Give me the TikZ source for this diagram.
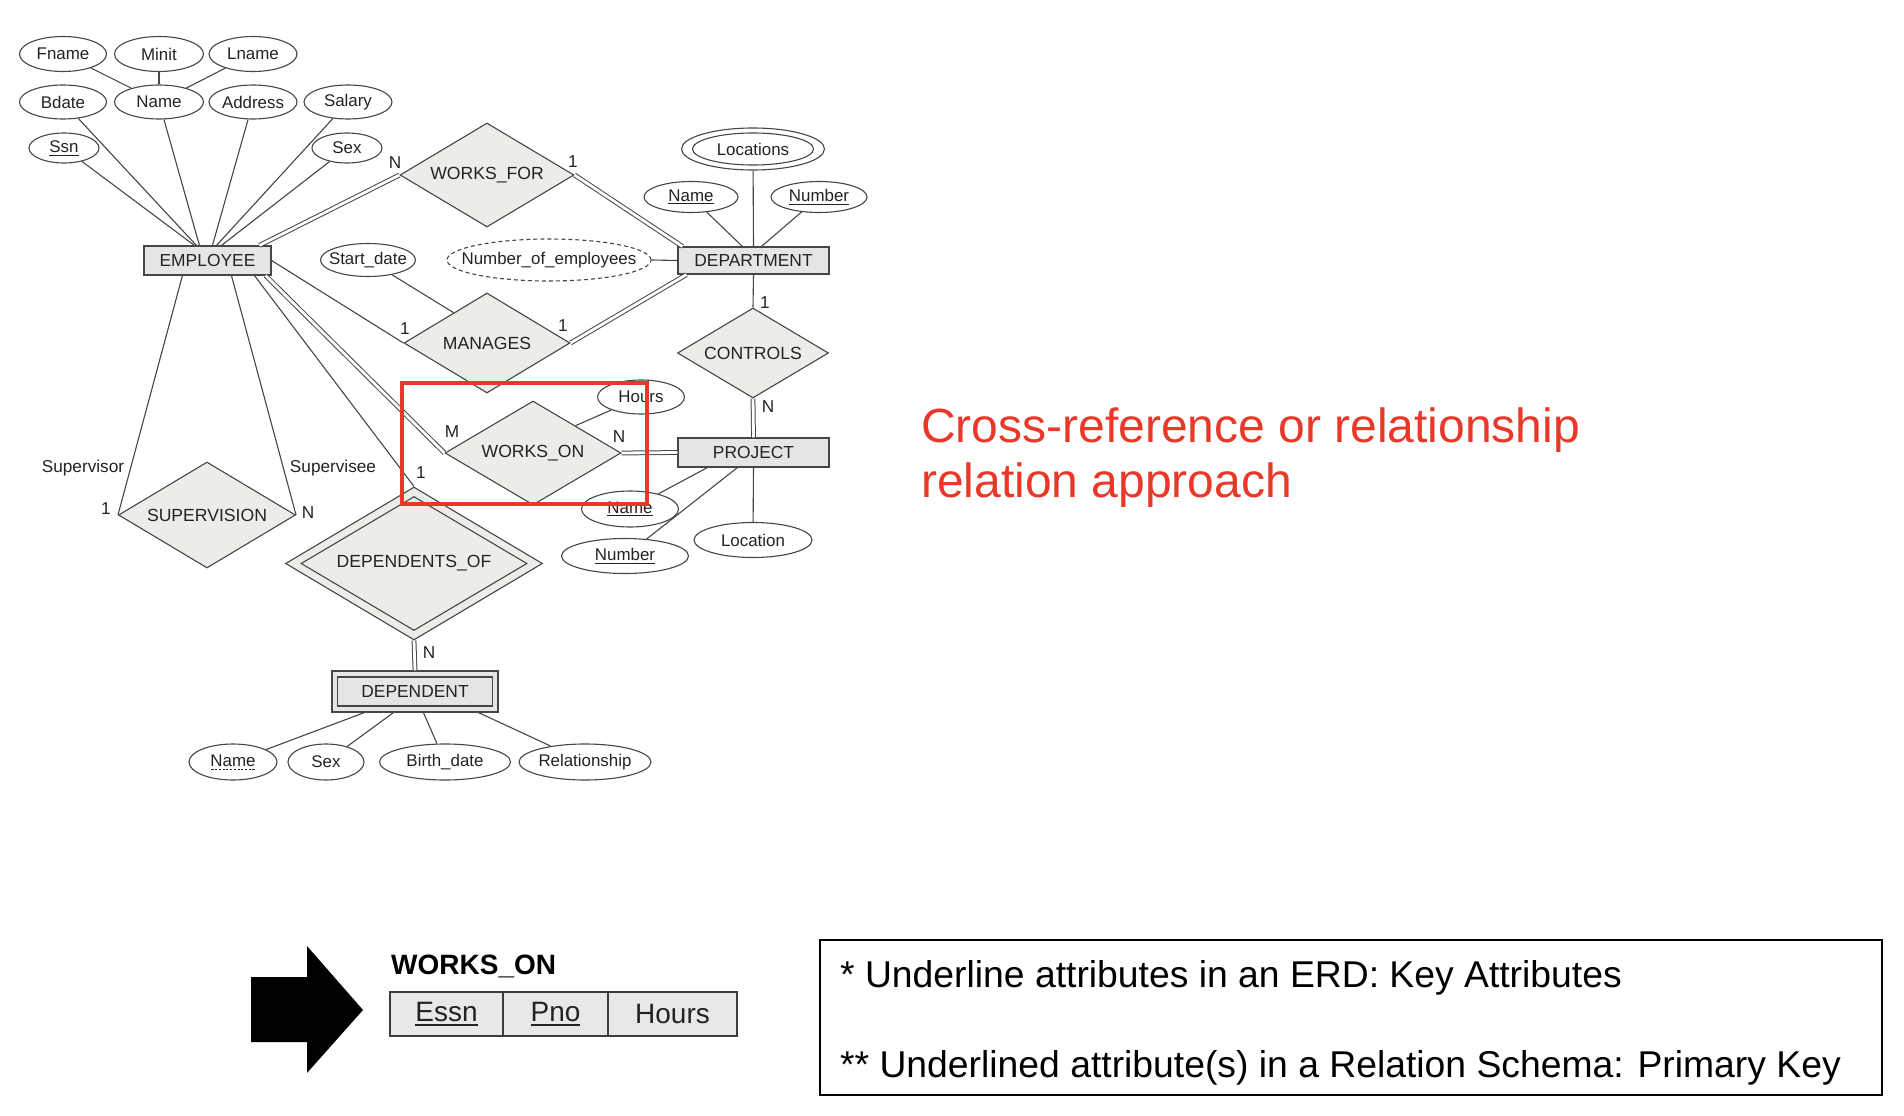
\documentclass[tikz,border=0pt]{standalone}
\usepackage{fontspec}
\setmainfont{Liberation Sans}
\usetikzlibrary{shapes.geometric,calc}
\definecolor{lc}{RGB}{70,70,70}
\definecolor{dfill}{RGB}{238,236,233}
\definecolor{efill}{RGB}{229,229,227}
\definecolor{txt}{RGB}{35,35,35}
\definecolor{redc}{RGB}{233,56,40}
\definecolor{cellfill}{RGB}{232,232,232}
\newcommand{\keyul}[3]{\setbox0=\hbox{#3}\rlap{\rule[-#1]{\wd0}{#2}}\box0}
\newcommand{\dashul}[1]{\setbox0=\hbox{#1}\rlap{\raisebox{-3.5pt}{\hbox to\wd0{\xleaders\hbox to 3.6pt{\hss\rule{2.2pt}{0.9pt}\hss}\hfill}}}\box0}
\begin{document}
\begin{tikzpicture}[x=1pt,y=-1pt,
  every node/.style={text=txt},
  ln/.style={draw=lc,line width=1.1pt},
  dbl/.style={draw=lc,line width=1pt,double=white,double distance=2.8pt},
  attr/.style={ellipse,draw=lc,line width=1.1pt,fill=white,inner xsep=-20pt,inner ysep=0pt,font=\fontsize{16.9}{18}\selectfont},
  ent/.style={rectangle,draw=lc,line width=1.1pt,fill=efill,inner sep=0pt,font=\fontsize{17.4}{19}\selectfont},
  rel/.style={diamond,aspect=2,draw=lc,line width=1.1pt,fill=dfill,inner sep=0pt,font=\fontsize{17.6}{19}\selectfont},
  card/.style={inner sep=0pt,font=\fontsize{17.2}{19}\selectfont},
  cell/.style={rectangle,draw={rgb,255:red,60;green,60;blue,60},line width=1.6pt,fill=cellfill,inner sep=0pt,minimum height=44,font=\fontsize{28}{30}\selectfont},
]
\fill[white] (0,0) rectangle (1904,1116);
\useasboundingbox (0,0) rectangle (1904,1116);

% ---------- EMPLOYEE side ----------
\node[attr,minimum width=87,minimum height=35] (fname) at (63,54) {Fname};
\node[attr,minimum width=89,minimum height=35] (minit) at (159,54) {Minit};
\node[attr,minimum width=88,minimum height=35] (lname) at (253,54) {Lname};
\node[attr,minimum width=87,minimum height=34] (bdate) at (63,102) {Bdate};
\node[attr,minimum width=89,minimum height=34] (ename) at (159,102) {Name};
\node[attr,minimum width=88,minimum height=34] (addr) at (253,102) {Address};
\node[attr,minimum width=88,minimum height=34] (salary) at (348,102) {Salary};
\node[attr,minimum width=70,minimum height=30] (ssn) at (64,148) {\keyul{3pt}{0.9pt}{Ssn}};
\node[attr,minimum width=70,minimum height=30] (esex) at (347,148) {Sex};
\node[ent,minimum width=127,minimum height=29] (emp) at (207.5,260.5) {EMPLOYEE};
\node[attr,minimum width=95,minimum height=33] (startd) at (368,260) {Start\_date};

% ---------- relationships ----------
\node[rel,minimum width=174,minimum height=104] (wf) at (487,175) {WORKS\_FOR};
\node[rel,minimum width=166,minimum height=100] (mgr) at (487,343) {MANAGES};
\node[rel,minimum width=151,minimum height=90] (ctrl) at (753,353) {CONTROLS};
\node[rel,minimum width=176,minimum height=104] (won) at (533,453) {WORKS\_ON};
\node[rel,minimum width=177,minimum height=106] (sup) at (207,515) {SUPERVISION};
\node[rel,minimum width=257,minimum height=153] (depof) at (414,563.5) {};
\node[rel,minimum width=226,minimum height=134] (depofin) at (414,563.5) {DEPENDENTS\_OF};

% ---------- DEPARTMENT ----------
\node[ent,minimum width=151,minimum height=27] (dept) at (753.5,260.5) {DEPARTMENT};
\node[attr,minimum width=143,minimum height=42] (locs) at (753,149) {};
\node[attr,minimum width=121,minimum height=32] (locsin) at (753,149) {Locations};
\node[attr,minimum width=94,minimum height=31] (dname) at (691,197) {\keyul{3pt}{0.9pt}{Name}};
\node[attr,minimum width=96,minimum height=31] (dnum) at (819,197) {\keyul{3pt}{0.9pt}{Number}};
\node[attr,dashed,dash pattern=on 4pt off 3pt,minimum width=204,minimum height=42] (noe) at (549,260) {Number\_of\_employees};

% ---------- PROJECT ----------
\node[ent,minimum width=151,minimum height=29] (proj) at (753.5,452.5) {PROJECT};
\node[attr,minimum width=87,minimum height=34] (hours) at (641,397) {Hours};
\node[attr,minimum width=97,minimum height=36] (pname) at (630,509) {\keyul{3pt}{0.9pt}{Name}};
\node[attr,minimum width=127,minimum height=35] (pnum) at (625,556) {\keyul{3pt}{0.9pt}{Number}};
\node[attr,minimum width=118,minimum height=35] (ploc) at (753,540) {Location};

% ---------- DEPENDENT ----------
\node[ent,minimum width=166,minimum height=41] (dep) at (415,691.5) {};
\node[ent,minimum width=155,minimum height=29] (depin) at (415,691.5) {DEPENDENT};
\node[attr,minimum width=88,minimum height=36] (dpname) at (233,762) {\dashul{Name}};
\node[attr,minimum width=76,minimum height=36] (dpsex) at (326,762) {Sex};
\node[attr,minimum width=131,minimum height=36] (bdate2) at (445,762) {Birth\_date};
\node[attr,minimum width=132,minimum height=36] (relsh) at (585,762) {Relationship};

% ---------- connectors ----------
\draw[ln] (fname) -- (ename);
\draw[ln] (minit) -- (ename);
\draw[ln] (lname) -- (ename);
\draw[ln] (ssn) -- ([xshift=51pt]emp.north west);
\draw[ln] (bdate) -- ([xshift=53pt]emp.north west);
\draw[ln] (ename) -- ([xshift=56pt]emp.north west);
\draw[ln] (addr) -- ([xshift=69pt]emp.north west);
\draw[ln] (salary) -- ([xshift=73pt]emp.north west);
\draw[ln] (esex) -- ([xshift=78pt]emp.north west);
\draw[dbl] ([xshift=116pt]emp.north west) -- (wf.west);
\draw[dbl] (wf.east) -- ([xshift=5pt]dept.north west);
\draw[ln] (emp.east) -- (mgr.west);
\draw[dbl] (mgr.east) -- ([xshift=9pt]dept.south west);
\coordinate (sdpt) at ($(mgr.west)!0.6!(mgr.north)$);
\draw[ln] (startd) -- (sdpt);
\draw[ln] (noe.east) -- (dept.west);
\draw[ln] (locs) -- (dept.north);
\draw[ln] (dname) -- ([xshift=65pt]dept.north west);
\draw[ln] (dnum) -- ([xshift=84pt]dept.north west);
\draw[ln] (dept.south) -- (ctrl.north);
\draw[dbl] (ctrl.south) -- (proj.north);
\draw[dbl] ([xshift=-6pt]emp.south east) -- (won.west);
\draw[dbl] (won.east) -- (proj.west);
\coordinate (hpt) at ($(won.north)!0.48!(won.east)$);
\draw[ln] (hours) -- (hpt);
\draw[ln] (pname) -- ([xshift=30pt]proj.south west);
\draw[ln] (pnum) -- ([xshift=60pt]proj.south west);
\draw[ln] (ploc) -- (proj.south);
\draw[ln] ([xshift=39pt]emp.south west) -- (sup.west);
\draw[ln] ([xshift=88pt]emp.south west) -- (sup.east);
\draw[ln] ([xshift=111pt]emp.south west) -- (depof.north);
\draw[dbl] (depof.south) -- (dep.north);
\draw[ln] (dpname) -- ([xshift=33pt]dep.south west);
\draw[ln] (dpsex) -- ([xshift=62pt]dep.south west);
\draw[ln] (bdate2) -- ([xshift=92pt]dep.south west);
\draw[ln] (relsh) -- ([xshift=147pt]dep.south west);

% ---------- cardinalities / roles ----------
\node[card] (c1) at (395,163) {N};
\node[card] (c2) at (573,162) {1};
\node[card] (c3) at (405,329) {1};
\node[card] (c4) at (563,326) {1};
\node[card] (c5) at (765,303) {1};
\node[card] (c6) at (768,407) {N};
\node[card] (c7) at (452,432) {M};
\node[card] (c8) at (619,437) {N};
\node[card] (c9) at (421,473) {1};
\node[card] (c10) at (429,653) {N};
\node[card] (c11) at (106,509) {1};
\node[card] (c12) at (308,513) {N};
\node[card] (r1) at (83,468) {Supervisor};
\node[card] (r2) at (333,468) {Supervisee};

% ---------- highlight ----------
\node[draw=redc,line width=4pt,minimum width=245,minimum height=121,inner sep=0pt] (hl) at (524.5,443.5) {};

% ---------- red caption ----------
\node[anchor=base west,inner sep=0pt,text=redc,font=\fontsize{48}{55}\selectfont] (cap1) at (921,442) {Cross-reference or relationship};
\node[anchor=base west,inner sep=0pt,text=redc,font=\fontsize{48}{55}\selectfont] (cap2) at (921,497) {relation approach};

% ---------- bottom: arrow and relation schema ----------
\fill[black] (251,977) -- (307,977) -- (307,946) -- (363,1010) -- (307,1073) -- (307,1042) -- (251,1042) -- cycle;
\node[anchor=base west,inner sep=0pt,text=black,font=\fontsize{28}{30}\selectfont\bfseries] (rtitle) at (391,974) {WORKS\_ON};
\node[cell,minimum width=113] (essn) at (446.5,1014) {\keyul{5pt}{1.8pt}{Essn}};
\node[cell,minimum width=105] (pno) at (555.5,1014) {\keyul{5pt}{1.8pt}{Pno}};
\node[cell,minimum width=129] (hrs) at (672.5,1014) {Hours};

% ---------- note box ----------
\node[draw=black,line width=1.5pt,minimum width=1062,minimum height=155,inner sep=0pt] (note) at (1351,1017.5) {};
\node[anchor=base west,inner sep=0pt,text=black,font=\fontsize{37.3}{40}\selectfont] (n1) at (840,987) {* Underline attributes in an ERD: Key Attributes};
\node[anchor=base west,inner sep=0pt,text=black,font=\fontsize{37.3}{40}\selectfont] (n2) at (840,1077) {** Underlined attribute(s) in a Relation Schema: Primary Key};
\end{tikzpicture}
\end{document}
